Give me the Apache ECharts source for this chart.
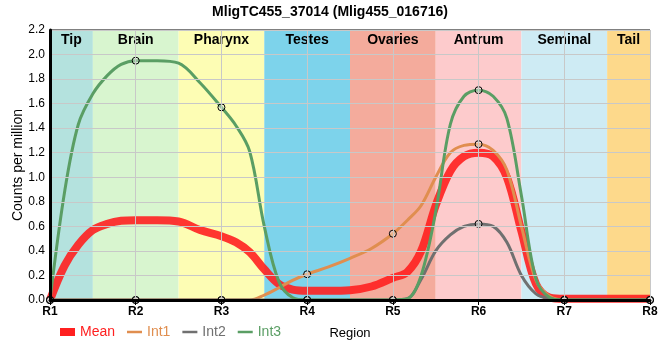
<!DOCTYPE html>
<html><head><meta charset="utf-8">
<script src="https://cdn.jsdelivr.net/npm/echarts@6/dist/echarts.min.js"></script>
<style>html,body{margin:0;padding:0;background:#fff}#c{width:660px;height:360px}</style>
</head><body><div id="c"></div>
<script>
const title = 'MligTC455_37014 (Mlig455_016716)';
const regionLabels = ['R1','R2','R3','R4','R5','R6','R7','R8'];
const bandNames = ['Tip','Brain','Pharynx','Testes','Ovaries','Antrum','Seminal','Tail'];
const bandStart = [0, 0.5, 1.5, 2.5, 3.5, 4.5, 5.5, 6.5];
const bandEnd   = [0.5, 1.5, 2.5, 3.5, 4.5, 5.5, 6.5, 7];
const bandColors = ['#b4e2de','#d8f5cf','#fdfdb4','#7dd3eb','#f4ab9c','#fdcbcc','#ceebf4','#fdd98b'];

const xs = [0,0.17,0.33,0.5,0.67,0.83,1,1.25,1.5,1.75,2,2.17,2.33,2.5,2.67,2.83,3,3.25,3.5,3.75,4,4.17,4.33,4.5,4.67,4.83,5,5.17,5.33,5.5,5.67,5.83,6,6.5,7];
const meanVals = [0,0.28,0.45,0.57,0.62,0.645,0.65,0.65,0.64,0.57,0.52,0.47,0.39,0.25,0.13,0.085,0.075,0.075,0.08,0.11,0.18,0.23,0.4,0.77,1.05,1.17,1.2,1.17,1.0,0.56,0.13,0.02,0.01,0.01,0.01];
const int1Vals = [0,0,0,0,0,0,0,0,0,0,0,0,0,0.04,0.1,0.16,0.21,0.27,0.34,0.42,0.54,0.65,0.77,1.0,1.2,1.26,1.27,1.22,1.06,0.6,0.16,0.03,0,0,0];
const int2Vals = [0,0,0,0,0,0,0,0,0,0,0,0,0,0,0,0,0,0,0,0,0,0.01,0.17,0.4,0.53,0.6,0.62,0.6,0.47,0.2,0.05,0.01,0,0,0];
const int3Vals = [0,0.88,1.43,1.68,1.83,1.92,1.95,1.95,1.93,1.77,1.57,1.42,1.21,0.6,0.15,0.02,0,0,0,0,0,0.01,0.2,0.72,1.43,1.66,1.71,1.66,1.48,0.85,0.17,0.02,0,0,0];

const names = ['Mean','Int1','Int2','Int3'];
const colors = ['#ff2020','#e08e4f','#707070','#5a9e64'];
const valueSets = [meanVals, int1Vals, int2Vals, int3Vals];

const pts = vals => xs.map((x, i) => [x, vals[i]]);

const bandData = bandNames.map((n, i) => [
  {name: n, xAxis: bandStart[i], itemStyle: {color: bandColors[i], opacity: 1}},
  {xAxis: bandEnd[i]}
]);

const series = names.map((n, k) => {
  const isMean = k === 0;
  const s = {
    name: n,
    type: 'line',
    data: pts(valueSets[k]),
    smooth: 0.35,
    showAllSymbol: true,
    symbol: isMean ? 'none' : (v => Number.isInteger(v[0]) ? 'circle' : 'none'),
    symbolSize: 7,
    lineStyle: {color: colors[k], width: isMean ? 8 : 3, opacity: isMean ? 0.9 : 1},
    itemStyle: {color: 'rgba(255,255,255,0.35)', borderColor: '#000', borderWidth: 1},
    emphasis: {disabled: true},
    z: isMean ? 3 : 4,
    animation: false
  };
  if (isMean) {
    s.markArea = {
      silent: true,
      label: {show: true, position: 'insideTop', color: '#000', fontWeight: 'bold', fontSize: 14, fontFamily: 'Liberation Sans', distance: 3},
      data: bandData
    };
  }
  return s;
});

const chart = echarts.init(document.getElementById('c'), null, {renderer: 'canvas'});
chart.setOption({
  animation: false,
  backgroundColor: '#fff',
  title: {text: title, left: 'center', top: 0, textStyle: {fontSize: 14, fontWeight: 'bold', color: '#000', fontFamily: 'Liberation Sans'}},
  grid: {left: 50, right: 10, top: 30, bottom: 60, containLabel: false, outerBoundsMode: 'none', show: true, borderColor: '#000', borderWidth: 1, backgroundColor: 'transparent'},
  legend: {
    left: 55, top: 320, itemWidth: 15, itemHeight: 8, itemGap: 12,
    textStyle: {fontSize: 14, fontFamily: 'Liberation Sans'},
    data: names.map((n, k) => ({
      name: n,
      icon: k === 0 ? 'path://M0,0 H15 V8 H0 Z' : 'path://M0,0 H15 V2.5 H0 Z',
      itemStyle: {color: colors[k], borderWidth: 0},
      textStyle: {color: colors[k]}
    }))
  },
  xAxis: {
    type: 'value', min: 0, max: 7, interval: 1,
    name: 'Region', nameLocation: 'middle', nameGap: 27, nameMoveOverlap: false,
    nameTextStyle: {color: '#000', fontSize: 13, fontFamily: 'Liberation Sans'},
    axisLine: {show: true, onZero: false, lineStyle: {color: '#000', width: 3}},
    axisTick: {show: true, length: 5, lineStyle: {color: '#000'}},
    axisLabel: {formatter: v => regionLabels[v], color: '#000', fontWeight: 'bold', fontSize: 12, fontFamily: 'Liberation Sans', margin: 6},
    splitLine: {show: true, lineStyle: {color: '#c8c8c8', width: 1}},
    z: 10
  },
  yAxis: {
    type: 'value', min: 0, max: 2.2, interval: 0.2,
    name: 'Counts per million', nameLocation: 'middle', nameGap: 25, nameMoveOverlap: false,
    nameTextStyle: {color: '#000', fontSize: 14, fontFamily: 'Liberation Sans'},
    axisLine: {show: true, lineStyle: {color: '#000', width: 3}},
    axisTick: {show: false},
    axisLabel: {formatter: v => v.toFixed(1), color: '#000', fontSize: 12, fontFamily: 'Liberation Sans', margin: 5},
    splitLine: {show: true, lineStyle: {color: '#c8c8c8', width: 1}},
    z: 10
  },
  series: series
});
</script>
</body></html>
